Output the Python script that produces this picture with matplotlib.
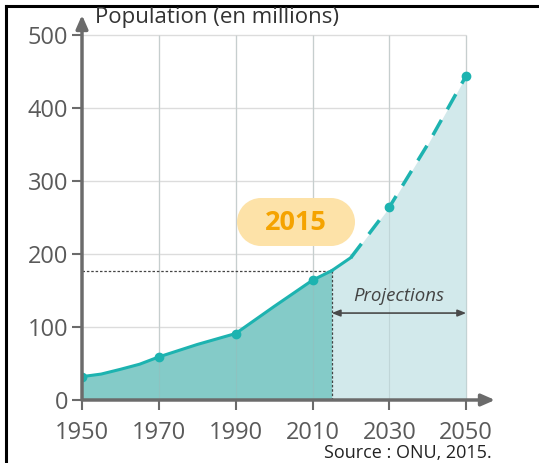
import numpy as np
import matplotlib.pyplot as plt
from matplotlib.patches import Rectangle, Circle
from matplotlib.transforms import IdentityTransform

# Data (population in millions)
obs_years = [1950, 1955, 1960, 1965, 1970, 1980, 1990, 2000, 2010, 2015]
obs_pop = [32, 35.5, 42, 49, 59, 76, 91, 128, 164, 177]
proj_years = [2015, 2020, 2030, 2040, 2050]
proj_pop = [177, 195, 264, 350, 444]
marker_years = [1950, 1970, 1990, 2010, 2030, 2050]
marker_pop = [32, 59, 91, 164, 264, 444]
xticks = [1950, 1970, 1990, 2010, 2030, 2050]
yticks = [0, 100, 200, 300, 400, 500]

TEAL = '#1db3b0'
DARK_FILL = '#84cbc8'
LIGHT_FILL = '#d2e9eb'
GRID = '#dcdcdc'
AXIS = '#6b6b6b'
TXT = '#5a5a5a'
BADGE = '#fde2a8'

plt.rcParams['font.family'] = ['Open Sans', 'DejaVu Sans']

W, H = 539, 463
fig = plt.figure(figsize=(W / 100, H / 100), dpi=100)
ax = fig.add_axes([82 / W, 1 - 400 / H, (495 - 82) / W, (400 - 15) / H])
ax.set_xlim(1950, 2057.5)
ax.set_ylim(0, 527)
for s in ax.spines.values():
    s.set_visible(False)

# grid
ax.vlines(xticks[1:], 0, 500, color=GRID, lw=1, zorder=0)
ax.hlines(yticks[1:], 1950, 2050, color=GRID, lw=1, zorder=0)

# fills
ax.fill_between(proj_years, proj_pop, 0, color=LIGHT_FILL, zorder=1, lw=0)
ax.fill_between(obs_years, obs_pop, 0, color=DARK_FILL, zorder=1, lw=0)
ax.vlines(xticks[1:], 0, 500, color='#9fb5b5', lw=0.8, alpha=0.35, zorder=1.5)

# lines
ax.plot(obs_years, obs_pop, color=TEAL, lw=2.2, zorder=3, solid_joinstyle='round')
ax.plot(proj_years[:2], proj_pop[:2], color=TEAL, lw=2.2, zorder=3)
ax.plot(proj_years[1:], proj_pop[1:], color=TEAL, lw=2.5, zorder=3,
        dashes=(5, 3.5))
ax.plot(marker_years, marker_pop, 'o', color=TEAL, ms=6, zorder=4)

# 2015 dotted guides
ax.plot([1950, 2015], [177, 177], color='#444444', lw=0.9, ls=(0, (2, 1.5)), zorder=2)
ax.plot([2015, 2015], [0, 177], color='#444444', lw=0.9, ls=(0, (2, 1.5)), zorder=2)

# axes arrows
ax.annotate('', xy=(2057.5, 0), xytext=(1950, 0),
            arrowprops=dict(arrowstyle='-|>,head_length=0.8,head_width=0.35',
                            color=AXIS, lw=2.5, shrinkA=0, shrinkB=0),
            annotation_clip=False, zorder=5)
ax.annotate('', xy=(1950, 527), xytext=(1950, 0),
            arrowprops=dict(arrowstyle='-|>,head_length=0.8,head_width=0.35',
                            color=AXIS, lw=2.5, shrinkA=0, shrinkB=0),
            annotation_clip=False, zorder=5)

ax.set_xticks(xticks)
ax.set_yticks(yticks)
ax.tick_params(axis='both', direction='out', length=7, width=1.5, color=AXIS,
               labelsize=17, labelcolor=TXT)
ax.tick_params(axis='x', pad=8)
ax.tick_params(axis='y', pad=3)

# labels
fig.text(95 / W, 1 - 18 / H, 'Population (en millions)', fontsize=16,
         color='#333333', ha='left', va='center')
fig.text(492 / W, 1 - 453 / H, 'Source : ONU, 2015.', fontsize=13,
         color='#222222', ha='right', va='center')

# 2015 badge: pill shape in pixels (rect + two half circles)
bx0, bx1, byc, br = 237 + 24, 355 - 24, H - 222, 24
for art in [Rectangle((bx0, byc - br), bx1 - bx0, 2 * br),
            Circle((bx0, byc), br), Circle((bx1, byc), br)]:
    art.set_transform(IdentityTransform())
    art.set_facecolor(BADGE)
    art.set_edgecolor('none')
    art.set_zorder(5)
    fig.add_artist(art)
fig.text(296 / W, 1 - 223 / H, '2015', fontsize=19.5, fontweight='bold',
         color='#f5a300', ha='center', va='center', zorder=6)

# projections
ax.annotate('', xy=(2050, 119), xytext=(2015, 119),
            arrowprops=dict(arrowstyle='<|-|>,head_length=0.5,head_width=0.2',
                            color='#4a4a4a', lw=1.2, shrinkA=0, shrinkB=0),
            zorder=6)
ax.text(2032.5, 142, 'Projections', fontsize=13.4, style='italic', color='#444444',
        ha='center', va='center', zorder=6)

# frame lines
fig.add_artist(plt.Line2D([6 / W, 1], [1 - 6 / H, 1 - 6 / H], color='black', lw=2.2))
fig.add_artist(plt.Line2D([6 / W, 6 / W], [0, 1 - 6 / H], color='black', lw=2.2))

fig.savefig('out.png', dpi=100)
